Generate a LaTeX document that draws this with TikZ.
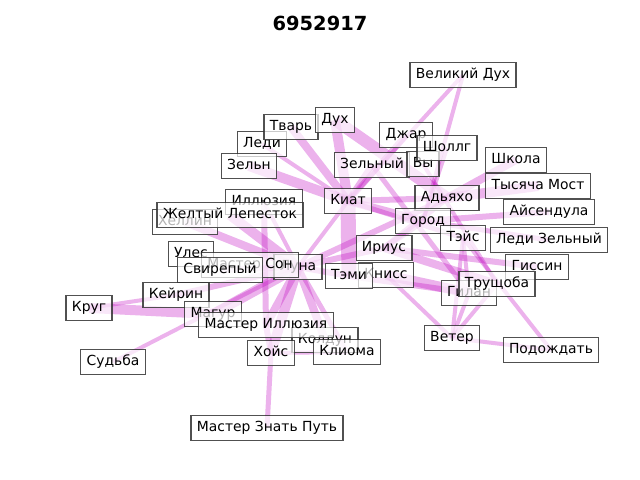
\documentclass[tikz,border=0pt]{standalone}
\usepackage{fontspec}
\setmainfont{DejaVu Sans}
\pgfdeclarelayer{background}
\pgfsetlayers{background,main}
\tikzset{
  lbl/.style={draw={rgb,255:red,50;green,50;blue,50}, line width=0.9pt, fill=white, fill opacity=0.7, draw opacity=0.85, text opacity=1,
    font=\fontsize{10pt}{12pt}\selectfont, text height=7.6pt, text depth=2.4pt, inner xsep=4.2pt, inner ysep=4pt},
  ed/.style={draw={rgb,255:red,191;green,0;blue,191}, draw opacity=0.3, line width=#1*0.72pt},
  ed/.default=4
}
\begin{document}
\begin{tikzpicture}[x=0.72pt,y=-0.72pt]
\useasboundingbox (0,0) rectangle (640,480);
\node[font=\fontsize{14pt}{17pt}\selectfont\bfseries] (title) at (320,23) {6952917};
% nodes in drawing order
\node[lbl] (vd) at (463,75) {Великий Дух};
\node[lbl] (ledi) at (262,144) {Леди};
\node[lbl] (tvar) at (291,127) {Тварь};
\node[lbl] (duh) at (335,120) {Дух};
\node[lbl] (zeln) at (249,166) {Зельн};
\node[lbl] (dzhar) at (406,135) {Джар};
\node[lbl] (zelny) at (372,165) {Зельный};
\node[lbl] (vy) at (423,164) {Вы};
\node[lbl] (shollg) at (447,148) {Шоллг};
\node[lbl] (shkola) at (516,160) {Школа};
\node[lbl] (tm) at (538,186) {Тысяча Мост};
\node[lbl] (ais) at (549,212) {Айсендула};
\node[lbl] (lz) at (549,240) {Леди Зельный};
\node[lbl] (giss) at (537,267) {Гиссин};
\node[lbl] (adya) at (447,198) {Адьяхо};
\node[lbl] (gorod) at (423,221) {Город};
\node[lbl] (teis) at (463,238) {Тэйс};
\node[lbl] (gilan) at (469,293) {Гилан};
\node[lbl] (trush) at (497,284) {Трущоба};
\node[lbl] (kiat) at (348,201) {Киат};
\node[lbl] (illu) at (264,202) {Иллюзия};
\node[lbl] (hell) at (185,222) {Хеллин};
\node[lbl] (zhl) at (230,215) {Желтый Лепесток};
\node[lbl] (ules) at (191,254) {Улес};
\node[lbl] (luna) at (298,267) {Луна};
\node[lbl] (mson) at (250,265) {Мастер Сон};
\node[lbl] (svir) at (220,270) {Свирепый};
\node[lbl] (iri) at (384,248) {Ириус};
\node[lbl] (kniss) at (386,275) {Книсс};
\node[lbl] (temi) at (349,276) {Тэми};
\node[lbl] (keir) at (176,295) {Кейрин};
\node[lbl] (krug) at (89,308) {Круг};
\node[lbl] (magur) at (213,314) {Магур};
\node[lbl] (kold) at (325,340) {Колдун};
\node[lbl] (mi) at (266,325) {Мастер Иллюзия};
\node[lbl] (hois) at (271,353) {Хойс};
\node[lbl] (klio) at (347,352) {Клиома};
\node[lbl] (sud) at (113,362) {Судьба};
\node[lbl] (veter) at (452,338) {Ветер};
\node[lbl] (podo) at (551,350) {Подождать};
\node[lbl] (mzp) at (267,428) {Мастер Знать Путь};
\begin{pgfonlayer}{background}
\draw[ed=10] (duh.center) -- (kiat.center);
\draw[ed=12] (duh.center) -- (adya.center);
\draw[ed=8] (tvar.center) -- (kiat.center);
\draw[ed=4] (ledi.center) -- (kiat.center);
\draw[ed=10] (zeln.center) -- (kiat.center);
\draw[ed=4] (vd.center) -- (kiat.center);
\draw[ed=4] (vd.center) -- (gorod.center);
\draw[ed=6] (dzhar.center) -- (kiat.center);
\draw[ed=6] (zelny.center) -- (kiat.center);
\draw[ed=5] (zelny.center) -- (gilan.center);
\draw[ed=4] (shollg.center) -- (gorod.center);
\draw[ed=4] (vy.center) -- (trush.center);
\draw[ed=8] (kiat.center) -- (gorod.center);
\draw[ed=6] (kiat.center) -- (adya.center);
\draw[ed=15] (kiat.center) -- (temi.center);
\draw[ed=4] (kiat.center) -- (luna.center);
\draw[ed=5] (kiat.center) -- (teis.center);
\draw[ed=8] (adya.center) -- (shkola.center);
\draw[ed=10] (adya.center) -- (tm.center);
\draw[ed=6] (gorod.center) -- (ais.center);
\draw[ed=5] (gorod.center) -- (lz.center);
\draw[ed=6] (adya.center) -- (iri.center);
\draw[ed=6] (gorod.center) -- (iri.center);
\draw[ed=6] (iri.center) -- (giss.center);
\draw[ed=8] (iri.center) -- (trush.center);
\draw[ed=6] (iri.center) -- (luna.center);
\draw[ed=10] (kniss.center) -- (gilan.center);
\draw[ed=6] (temi.center) -- (gilan.center);
\draw[ed=4] (teis.center) -- (veter.center);
\draw[ed=4] (teis.center) -- (gilan.center);
\draw[ed=4] (kniss.center) -- (veter.center);
\draw[ed=4] (gilan.center) -- (veter.center);
\draw[ed=4] (trush.center) -- (veter.center);
\draw[ed=4] (veter.center) -- (podo.center);
\draw[ed=4] (teis.center) -- (podo.center);
\draw[ed=10] (luna.center) -- (zhl.center);
\draw[ed=8] (luna.center) -- (hell.center);
\draw[ed=4] (luna.center) -- (illu.center);
\draw[ed=6] (illu.center) -- (mi.center);
\draw[ed=6] (luna.center) -- (svir.center);
\draw[ed=6] (luna.center) -- (keir.center);
\draw[ed=10] (luna.center) -- (magur.center);
\draw[ed=10] (krug.center) -- (magur.center);
\draw[ed=4] (krug.center) -- (keir.center);
\draw[ed=4] (sud.center) -- (luna.center);
\draw[ed=8] (luna.center) -- (mi.center);
\draw[ed=10] (luna.center) -- (hois.center);
\draw[ed=8] (luna.center) -- (kold.center);
\draw[ed=5] (luna.center) -- (klio.center);
\draw[ed=4] (hois.center) -- (klio.center);
\draw[ed=5] (hois.center) -- (mzp.center);
\draw[ed=6] (luna.center) -- (temi.center);
\draw[ed=6] (luna.center) -- (adya.center);
\draw[ed=6] (mi.center) -- (hois.center);
\end{pgfonlayer}
\end{tikzpicture}
\end{document}
